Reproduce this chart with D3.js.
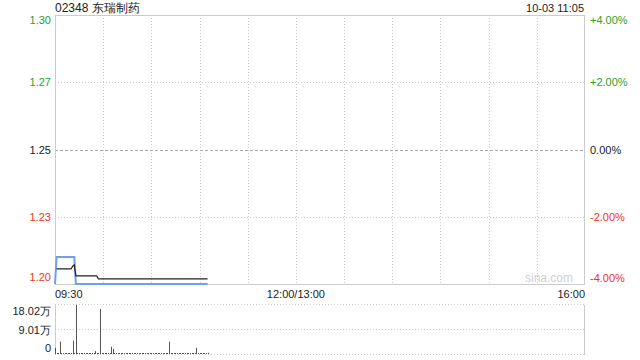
<!DOCTYPE html>
<html><head><meta charset="utf-8">
<script src="https://cdn.jsdelivr.net/npm/d3@7"></script>
<style>body{margin:0;background:#fff;}svg{display:block;font-family:"Liberation Sans",Arial,sans-serif;}</style>
</head><body><svg id="c" width="640" height="360"></svg>
<script>
// ---- data ----
const title = "02348 东瑞制药";
const stamp = "10-03 11:05";
const preClose = 1.25;
const priceTicks = [1.30, 1.275, 1.25, 1.225, 1.20];
const priceTickLabels = ["1.30", "1.27", "1.25", "1.23", "1.20"];
const pctTickLabels = ["+4.00%", "+2.00%", "0.00%", "-2.00%", "-4.00%"];
const timeTicks = [0, 150, 330];
const timeTickLabels = ["09:30", "12:00/13:00", "16:00"];
// price line (minutes after 09:30, price)
const priceMinutes = [0, 1, 12, 13, 95];
const priceValues = [1.20, 1.21, 1.21, 1.20, 1.20];
// average price line
const avgMinutes = [1, 10, 11, 12, 13, 26, 27, 95];
const avgValues = [1.2056, 1.2056, 1.2066, 1.2071, 1.2030, 1.2030, 1.2019, 1.2019];
// volume per minute (shares), minutes 0..95
const volMinutes = d3.range(0, 96);
const volValues = [26000,1200,1500,48000,1200,1000,1500,1200,1000,1200,1500,52000,1200,180200,1500,1000,1200,1000,1500,1200,
  1000,1200,1500,1000,1200,14000,1200,1000,166000,1200,1000,1500,1200,1000,1200,30000,22000,1500,1000,1200,
  1000,1500,1200,1000,1200,1500,1000,1200,1000,1500,1200,1000,1200,1500,1000,1200,1000,1500,1200,1000,
  1200,1500,1000,1200,1000,1500,1200,1000,1200,1500,1000,48000,1200,1000,1500,1200,1000,1200,1500,1000,
  1200,1000,1500,1200,1000,1200,1500,1000,26000,1200,1000,1500,1200,1000,1200,8000];
const volTicks = [180200, 90100, 0];
const volTickLabels = ["18.02万", "9.01万", "0"];

// ---- layout ----
const svg = d3.select("#c");
const L = 55, R = 585, T = 15, B = 284, VT = 305, VB = 355;
const green = "#2aa12a", red = "#ee3322", dark = "#222";
const x = d3.scaleLinear().domain([0, 330]).range([L, R]);
const y = d3.scaleLinear().domain([1.20, 1.30]).range([B, T]);
const yv = d3.scaleLinear().domain([0, 180200]).range([VB, VT]);
const colorFor = v => Math.abs(v - preClose) < 1e-9 ? dark : (v > preClose ? green : red);

// vertical grid
const vgrid = d3.range(30, 330, 30);
svg.append("g").selectAll("line").data(vgrid).join("line")
  .attr("x1", d => Math.round(x(d)) + 0.5).attr("x2", d => Math.round(x(d)) + 0.5)
  .attr("y1", T).attr("y2", B)
  .attr("stroke", "#ccc").attr("stroke-dasharray", "1,2");
// horizontal grid
svg.append("g").selectAll("line").data(priceTicks.slice(1, 4)).join("line")
  .attr("x1", L).attr("x2", R)
  .attr("y1", d => Math.round(y(d)) + 0.5).attr("y2", d => Math.round(y(d)) + 0.5)
  .attr("stroke", d => d === preClose ? "#aaa" : "#ccc")
  .attr("stroke-dasharray", d => d === preClose ? "3,2" : "1,2");
// border
svg.append("rect").attr("x", L + 0.5).attr("y", T + 0.5).attr("width", R - L - 1).attr("height", B - T)
  .attr("fill", "none").attr("stroke", "#ccc");

// watermark
svg.append("text").attr("x", 573).attr("y", 282).attr("text-anchor", "end")
  .attr("font-size", 12).attr("fill", "#d0d0d0").text("sina.com");

// lines
svg.append("path").datum(priceMinutes.map((m, i) => [m, priceValues[i]]))
  .attr("d", d3.line().x(d => x(d[0])).y(d => y(d[1])))
  .attr("fill", "none").attr("stroke", "#6f9ff0").attr("stroke-width", 2);
svg.append("path").datum(avgMinutes.map((m, i) => [m, avgValues[i]]))
  .attr("d", d3.line().x(d => x(d[0])).y(d => y(d[1])))
  .attr("fill", "none").attr("stroke", "#222").attr("stroke-width", 1.2);

// left labels
svg.append("g").selectAll("text").data(priceTicks).join("text")
  .attr("x", 51).attr("y", (d, i) => i === 0 ? T + 9 : (i === 4 ? B - 3 : y(d) + 4))
  .attr("text-anchor", "end").attr("font-size", 11)
  .attr("fill", d => colorFor(d)).text((d, i) => priceTickLabels[i]);
// right labels
svg.append("g").selectAll("text").data(priceTicks).join("text")
  .attr("x", 590).attr("y", (d, i) => i === 0 ? T + 9 : (i === 4 ? B - 2 : y(d) + 4))
  .attr("text-anchor", "start").attr("font-size", 11)
  .attr("fill", d => colorFor(d)).text((d, i) => pctTickLabels[i]);

// title and stamp
svg.append("text").attr("x", 55).attr("y", 12).attr("font-size", 12).attr("fill", "#222").text(title);
svg.append("text").attr("x", 584).attr("y", 12).attr("text-anchor", "end").attr("font-size", 11).attr("fill", "#222").text(stamp);

// time labels
svg.append("g").selectAll("text").data(timeTicks).join("text")
  .attr("x", d => x(d)).attr("y", 298)
  .attr("text-anchor", (d, i) => i === 0 ? "start" : (i === 2 ? "end" : "middle"))
  .attr("font-size", 11).attr("fill", "#222").text((d, i) => timeTickLabels[i]);

// volume panel
svg.append("g").selectAll("line").data(volTicks).join("line")
  .attr("x1", L).attr("x2", R)
  .attr("y1", d => Math.round(yv(d)) - 0.5).attr("y2", d => Math.round(yv(d)) - 0.5)
  .attr("stroke", "#ccc").attr("stroke-dasharray", "1,2");
svg.append("line").attr("x1", L + 0.5).attr("x2", L + 0.5).attr("y1", VT).attr("y2", VB).attr("stroke", "#ccc");
svg.append("line").attr("x1", R - 0.5).attr("x2", R - 0.5).attr("y1", VT).attr("y2", VB).attr("stroke", "#ccc");
svg.append("g").selectAll("line").data(volMinutes).join("line")
  .attr("x1", d => Math.round(x(d)) + 0.5).attr("x2", d => Math.round(x(d)) + 0.5)
  .attr("y1", VB - 1).attr("y2", (d, i) => Math.min(VB - 2, yv(volValues[i])))
  .attr("stroke", "#555").attr("stroke-width", 1);
svg.append("g").selectAll("text").data(volTicks).join("text")
  .attr("x", 51).attr("y", (d, i) => i === 0 ? VT + 10 : (i === 2 ? VB - 3 : yv(d) + 4))
  .attr("text-anchor", "end").attr("font-size", 11).attr("fill", "#222")
  .text((d, i) => volTickLabels[i]);
</script></body></html>
